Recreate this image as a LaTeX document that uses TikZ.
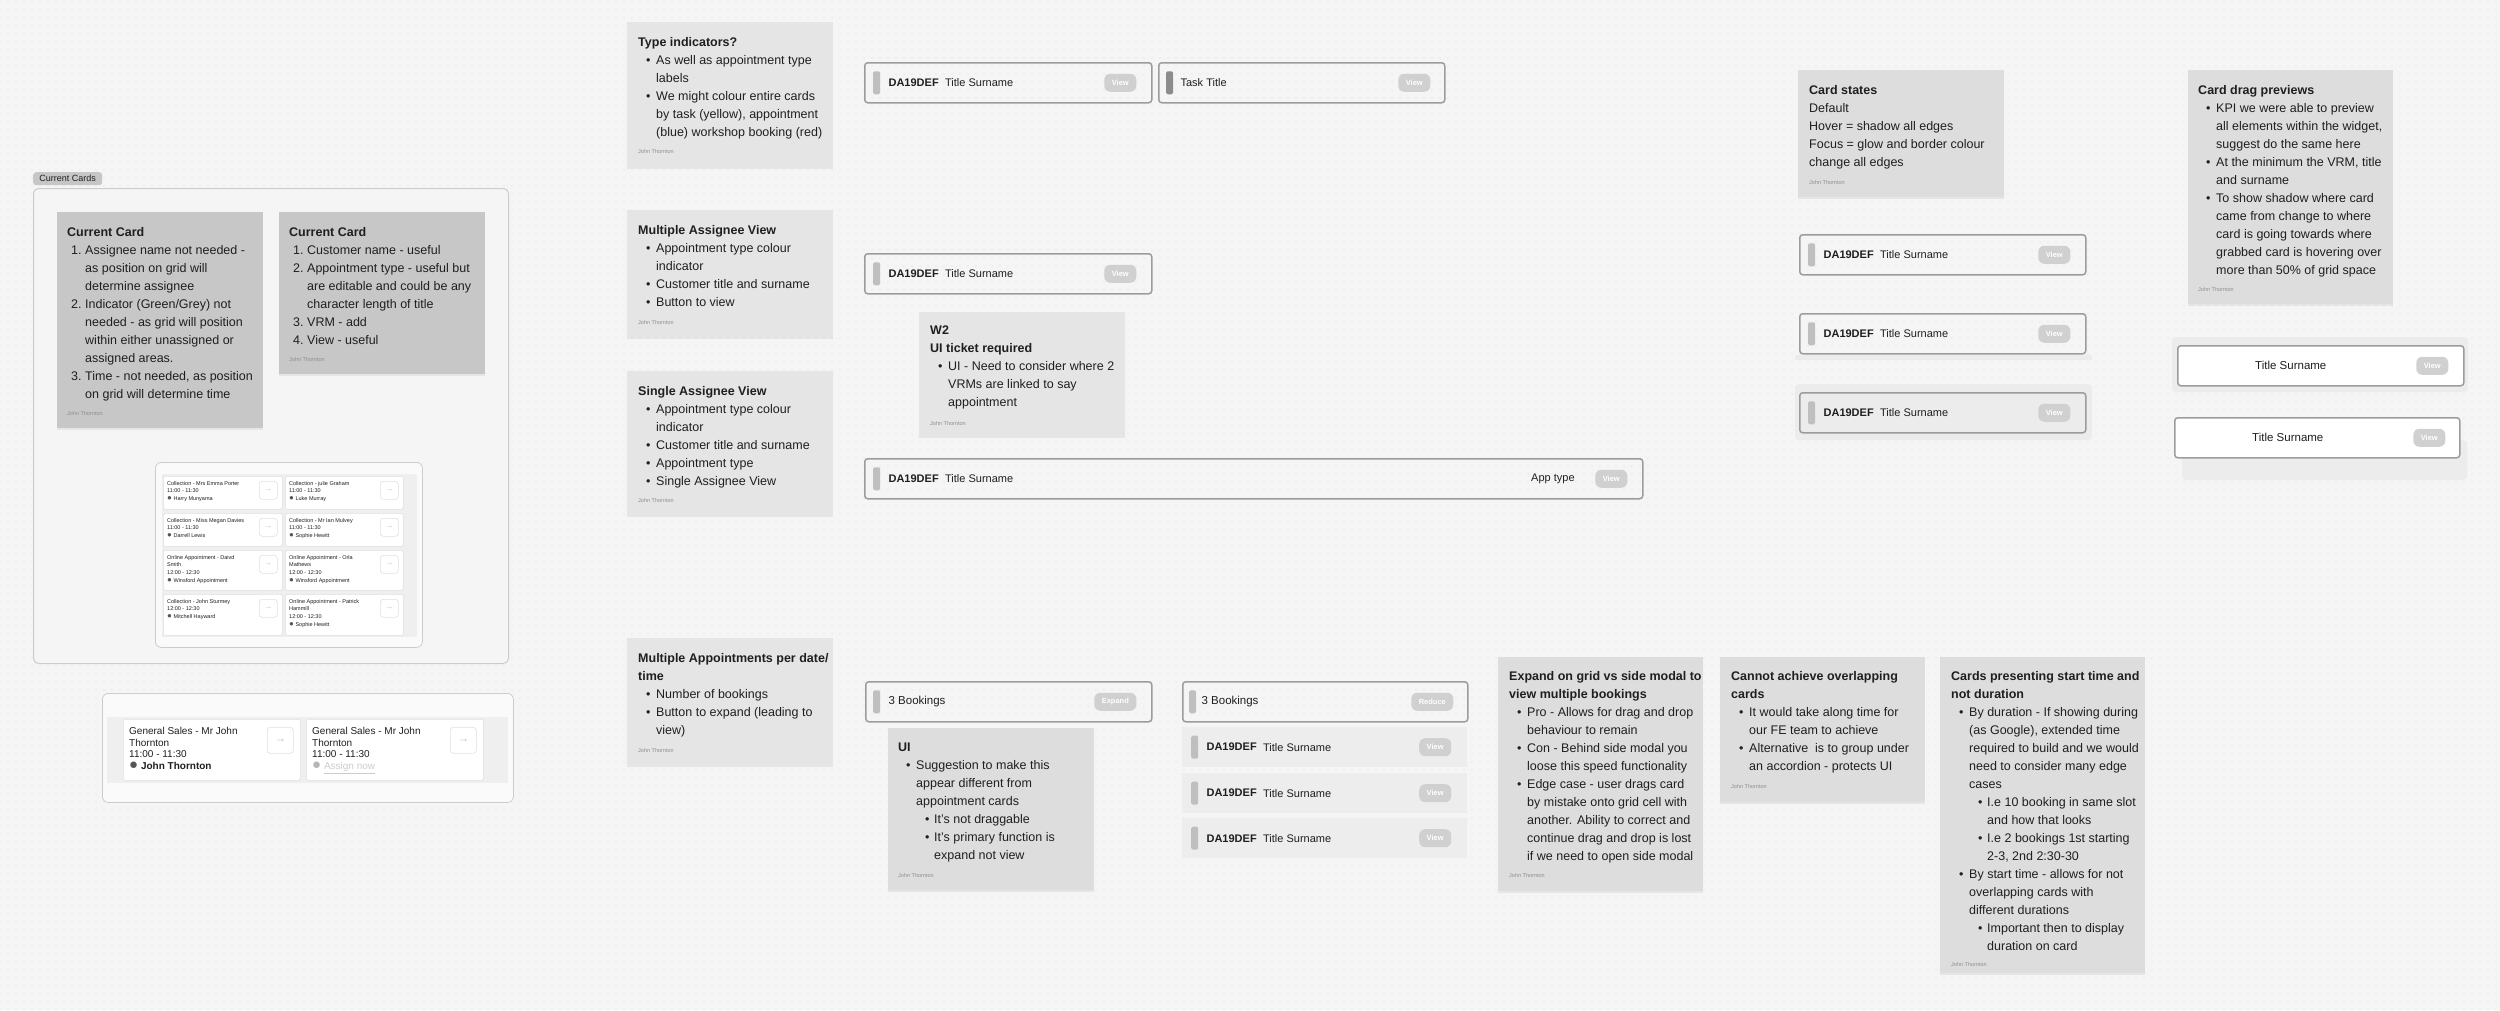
\documentclass[tikz,border=0pt]{standalone}
\usepackage{fontspec}
\setmainfont{Liberation Sans}
\usetikzlibrary{positioning,patterns,shadows}

\definecolor{bgcol}{HTML}{F5F5F5}
\definecolor{dotcol}{HTML}{DADADA}
\definecolor{notedark}{HTML}{C7C7C7}
\definecolor{notelight}{HTML}{E5E5E5}
\definecolor{notemid}{HTML}{DDDDDD}
\definecolor{cardline}{HTML}{9C9C9C}
\definecolor{barcol}{HTML}{BFBFBF}
\definecolor{darkbar}{HTML}{8C8C8C}
\definecolor{btncol}{HTML}{D0D0D0}
\definecolor{rowcol}{HTML}{EDEDED}
\definecolor{inkcol}{HTML}{1F1F1F}
\definecolor{signcol}{HTML}{8C8C8C}
\definecolor{framecol}{HTML}{CCCCCC}
\definecolor{tagcol}{HTML}{C6C6C6}
\definecolor{panelcol}{HTML}{FAFAFA}
\definecolor{bandcol}{HTML}{EFEFEF}
\definecolor{minline}{HTML}{E0E0E0}
\definecolor{arrowcol}{HTML}{C4C4C4}
\definecolor{persdot}{HTML}{555555}
\definecolor{lightdot}{HTML}{B5B5B5}
\definecolor{assigncol}{HTML}{CCCCCC}
\definecolor{glowcol}{HTML}{ECECEC}

\pgfdeclarepatternformonly{griddots}{\pgfqpoint{-1pt}{-1pt}}{\pgfqpoint{1pt}{1pt}}{\pgfqpoint{8pt}{8pt}}{%
  \pgfpathcircle{\pgfqpoint{0pt}{0pt}}{0.6pt}\pgfusepath{fill}}

% line starts inside the sticky notes
\newcommand{\bul}{\makebox[18pt][l]{\hspace{8pt}•}}
\newcommand{\cnt}{\hspace*{18pt}}
\newcommand{\sbul}{\makebox[36pt][l]{\hspace{27pt}•}}
\newcommand{\scnt}{\hspace*{36pt}}
\newcommand{\nmb}[1]{\makebox[18pt][l]{\hspace{4pt}#1}}
\newcommand{\pdot}[2]{{\fontsize{#2}{#2}\selectfont\textcolor{#1}{●}}}

\begin{document}
\begin{tikzpicture}[x=1pt, y=-1pt,
    sticky/.style={inner sep=0, anchor=north west, minimum width=206,
      drop shadow={opacity=0.12, shadow xshift=0pt, shadow yshift=-2pt}},
    note/.style={inner sep=0, anchor=north west, align=left, text=inkcol,
      font=\fontsize{12.5}{18}\selectfont},
    sign/.style={inner sep=0, anchor=west, text=signcol, font=\fontsize{5.5}{6}\selectfont},
    card/.style={draw=cardline, line width=1.5pt, rounded corners=3pt, inner sep=0,
      anchor=north west, minimum height=40},
    rowcard/.style={fill=rowcol, inner sep=0, anchor=north west, minimum height=40},
    bar/.style={fill=barcol, rounded corners=1.5pt, inner sep=0, minimum width=7, minimum height=23},
    vrm/.style={inner sep=0, text=inkcol, font=\fontsize{11}{12}\selectfont\bfseries},
    cust/.style={inner sep=0, text=inkcol, font=\fontsize{11}{12}\selectfont},
    btn/.style={fill=btncol, rounded corners=6pt, inner sep=0, minimum width=32,
      minimum height=18, text=white, font=\fontsize{7.5}{8}\selectfont\bfseries},
    mini/.style={fill=white, draw=minline, line width=0.6pt, rounded corners=1.5pt,
      inner sep=0, anchor=north west},
    minitext/.style={inner sep=0, anchor=north west, align=left, text=inkcol,
      font=\fontsize{5.5}{7.7}\selectfont},
    arrowbtn/.style={draw=minline, line width=0.6pt, rounded corners=3pt, inner sep=0,
      minimum size=18, text=arrowcol, font=\fontsize{8}{8}\selectfont}]

    % Canvas
    \useasboundingbox (0,0) rectangle (2500,1010);
    \fill[bgcol] (0,0) rectangle (2500,1010);
    \fill[pattern=griddots, pattern color=dotcol] (0,0) rectangle (2500,1010);

    % Card with bar, VRM, name and View button
    \def\apptcard#1#2#3#4#5{%
      \node[#2, minimum width=#5] (#1) at (#3,#4) {};
      \node[bar, right=9pt of #1.west] (#1bar) {};
      \node[vrm, right=8pt of #1bar] (#1vrm) {DA19DEF};
      \node[cust, right=6pt of #1vrm] (#1cust) {Title Surname};
      \node[btn, left=16pt of #1.east] (#1btn) {View};
    }

    % Mini card of the current widget
    \def\minicard#1#2#3#4#5#6{%
      \node[mini, minimum width=#4, minimum height=#5] (#1) at (#2,#3) {};
      \node[arrowbtn, anchor=north east] (#1arr) at ([shift={(-5,5)}]#1.north east) {→};
      \node[minitext] (#1txt) at ([shift={(4,5)}]#1.north west) {#6};
    }

    % ---------------- Current cards frame ----------------
    \node[fill=tagcol, rounded corners=3pt, inner sep=0, minimum width=69, minimum height=13,
      anchor=north west, text=inkcol, font=\fontsize{9}{9}\selectfont] (tag) at (33,172) {Current Cards};
    \node[draw=framecol, fill=bgcol, line width=1pt, rounded corners=5pt, inner sep=0,
      anchor=north west, minimum width=475, minimum height=475] (frame) at (33,188) {};

    \node[sticky, fill=notedark, minimum height=216] (cc1) at (57,212) {};
    \node[note] (cc1t) at ([shift={(10,15)}]cc1.north west) {\textbf{Current Card}\\
      \nmb{1.}Assignee name not needed -\\ \cnt as position on grid will\\ \cnt determine assignee\\
      \nmb{2.}Indicator (Green/Grey) not\\ \cnt needed - as grid will position\\
      \cnt within either unassigned or\\ \cnt assigned areas.\\
      \nmb{3.}Time - not needed, as position\\ \cnt on grid will determine time};
    \node[sign] (cc1s) at ([shift={(10,202)}]cc1.north west) {John Thornton};

    \node[sticky, fill=notedark, minimum height=162] (cc2) at (279,212) {};
    \node[note] (cc2t) at ([shift={(10,15)}]cc2.north west) {\textbf{Current Card}\\
      \nmb{1.}Customer name - useful\\ \nmb{2.}Appointment type - useful but\\
      \cnt are editable and could be any\\ \cnt character length of title\\
      \nmb{3.}VRM - add\\ \nmb{4.}View - useful};
    \node[sign] (cc2s) at ([shift={(10,148)}]cc2.north west) {John Thornton};

    % Current widget
    \node[fill=panelcol, draw=framecol, line width=0.8pt, rounded corners=6pt, inner sep=0,
      anchor=north west, minimum width=267, minimum height=185] (grid) at (155,462) {};
    \node[fill=bandcol, inner sep=0, anchor=north west, minimum width=255, minimum height=163] (gridband) at (162,474) {};
    \minicard{m1}{163}{476}{119}{33}{Collection - Mrs Emma Porter\\ 11:00 - 11:30\\ \pdot{persdot}{8} Harry Munyama}
    \minicard{m2}{285}{476}{118}{33}{Collection - julie Graham\\ 11:00 - 11:30\\ \pdot{persdot}{8} Luke Murray}
    \minicard{m3}{163}{513}{119}{33}{Collection - Miss Megan Davies\\ 11:00 - 11:30\\ \pdot{persdot}{8} Darrell Lewis}
    \minicard{m4}{285}{513}{118}{33}{Collection - Mr Ian Mulvey\\ 11:00 - 11:30\\ \pdot{persdot}{8} Sophie Hewitt}
    \minicard{m5}{163}{550}{119}{40}{Online Appointment - Daivd\\ Smith\\ 12:00 - 12:30\\ \pdot{persdot}{8} Winsford Appointment}
    \minicard{m6}{285}{550}{118}{40}{Online Appointment - Orla\\ Mathews\\ 12:00 - 12:30\\ \pdot{persdot}{8} Winsford Appointment}
    \minicard{m7}{163}{594}{119}{41}{Collection - John Sturmey\\ 12:00 - 12:30\\ \pdot{persdot}{8} Mitchell Hayward}
    \minicard{m8}{285}{594}{118}{41}{Online Appointment - Patrick\\ Hammill\\ 12:00 - 12:30\\ \pdot{persdot}{8} Sophie Hewitt}

    % General sales widget
    \node[fill=panelcol, draw=framecol, line width=0.8pt, rounded corners=6pt, inner sep=0,
      anchor=north west, minimum width=411, minimum height=109] (gs) at (102,693) {};
    \node[fill=bandcol, inner sep=0, anchor=north west, minimum width=401, minimum height=66] (gsband) at (107,717) {};
    \node[mini, minimum width=177, minimum height=61] (gs1) at (123,719) {};
    \node[mini, minimum width=177, minimum height=61] (gs2) at (306,719) {};
    \node[arrowbtn, minimum size=26, font=\fontsize{12}{12}\selectfont, anchor=north east] (gs1arr) at ([shift={(-7,8)}]gs1.north east) {→};
    \node[arrowbtn, minimum size=26, font=\fontsize{12}{12}\selectfont, anchor=north east] (gs2arr) at ([shift={(-7,8)}]gs2.north east) {→};
    \node[minitext, font=\fontsize{10}{11.6}\selectfont] (gs1txt) at ([shift={(6,8)}]gs1.north west)
      {General Sales - Mr John\\ Thornton\\ 11:00 - 11:30\\ \pdot{persdot}{15} \textbf{John Thornton}};
    \node[minitext, font=\fontsize{10}{11.6}\selectfont] (gs2txt) at ([shift={(6,8)}]gs2.north west)
      {General Sales - Mr John\\ Thornton\\ 11:00 - 11:30\\ \pdot{lightdot}{15} \textcolor{assigncol}{\underline{Assign now}}};

    % ---------------- Second column ----------------
    \node[sticky, fill=notelight, minimum height=145] (ti) at (627,22) {};
    \node[note] (tit) at ([shift={(11,15.5)}]ti.north west) {\textbf{Type indicators?}\\
      \bul As well as appointment type\\ \cnt labels\\
      \bul We might colour entire cards\\ \cnt by task (yellow), appointment\\ \cnt (blue) workshop booking (red)};
    \node[sign] (tis) at ([shift={(11,130)}]ti.north west) {John Thornton};

    \node[sticky, fill=notelight, minimum height=127] (ma) at (627,210) {};
    \node[note] (mat) at ([shift={(11,15.5)}]ma.north west) {\textbf{Multiple Assignee View}\\
      \bul Appointment type colour\\ \cnt indicator\\ \bul Customer title and surname\\ \bul Button to view};
    \node[sign] (mas) at ([shift={(11,113)}]ma.north west) {John Thornton};

    \node[sticky, fill=notelight, minimum height=144] (sa) at (627,371) {};
    \node[note] (sat) at ([shift={(11,15.5)}]sa.north west) {\textbf{Single Assignee View}\\
      \bul Appointment type colour\\ \cnt indicator\\ \bul Customer title and surname\\
      \bul Appointment type\\ \bul Single Assignee View};
    \node[sign] (sas) at ([shift={(11,130)}]sa.north west) {John Thornton};

    \node[sticky, fill=notelight, minimum height=127] (mp) at (627,638) {};
    \node[note] (mpt) at ([shift={(11,15.5)}]mp.north west) {\textbf{Multiple Appointments per date/}\\
      \textbf{time}\\ \bul Number of bookings\\ \bul Button to expand (leading to\\ \cnt view)};
    \node[sign] (mps) at ([shift={(11,113)}]mp.north west) {John Thornton};

    % ---------------- Cards ----------------
    \apptcard{top}{card}{864}{62}{287}
    \node[card, minimum width=286] (task) at (1158,62) {};
    \node[bar, fill=darkbar, right=8pt of task.west] (taskbar) {};
    \node[cust, right=7pt of taskbar] (tasktxt) {Task Title};
    \node[btn, left=15pt of task.east] (taskbtn) {View};

    \apptcard{multi}{card}{864}{253}{287}

    \node[sticky, fill=notelight, minimum height=124] (w2) at (919,312) {};
    \node[note] (w2t) at ([shift={(11,13.5)}]w2.north west) {\textbf{W2}\\ \textbf{UI ticket required}\\
      \bul UI - Need to consider where 2\\ \cnt VRMs are linked to say\\ \cnt appointment};
    \node[sign] (w2s) at ([shift={(11,112)}]w2.north west) {John Thornton};

    \apptcard{single}{card}{864}{458}{778}
    \node[cust, anchor=west] (singletype) at ([shift={(667,0)}]single.west) {App type};

    % Bookings group
    \node[card, minimum width=286] (exp) at (865,681) {};
    \node[bar, right=8pt of exp.west] (expbar) {};
    \node[cust, font=\fontsize{11.5}{12}\selectfont, right=8pt of expbar] (exptxt) {3 Bookings};
    \node[btn, minimum width=42, left=16pt of exp.east] (expbtn) {Expand};

    \node[sticky, fill=notemid, minimum height=162] (ui) at (888,728) {};
    \node[note] (uit) at ([shift={(10,14.5)}]ui.north west) {\textbf{UI}\\
      \bul Suggestion to make this\\ \cnt appear different from\\ \cnt appointment cards\\
      \sbul It’s not draggable\\ \sbul It’s primary function is\\ \scnt expand not view};
    \node[sign] (uis) at ([shift={(10,148)}]ui.north west) {John Thornton};

    \node[card, minimum width=285] (red) at (1182,681) {};
    \node[bar, right=7pt of red.west] (redbar) {};
    \node[cust, font=\fontsize{11.5}{12}\selectfont, right=5pt of redbar] (redtxt) {3 Bookings};
    \node[btn, minimum width=42, left=15pt of red.east] (redbtn) {Reduce};
    \apptcard{r1}{rowcard}{1182}{727}{285}
    \apptcard{r2}{rowcard}{1182}{773}{285}
    \apptcard{r3}{rowcard}{1182}{818}{285}

    % ---------------- Bottom notes ----------------
    \node[sticky, fill=notemid, minimum width=205, minimum height=234] (eg) at (1498,657) {};
    \node[note] (egt) at ([shift={(11,14.5)}]eg.north west) {\textbf{Expand on grid vs side modal to}\\
      \textbf{view multiple bookings}\\
      \bul Pro - Allows for drag and drop\\ \cnt behaviour to remain\\
      \bul Con - Behind side modal you\\ \cnt loose this speed functionality\\
      \bul Edge case - user drags card\\ \cnt by mistake onto grid cell with\\
      \cnt another. Ability to correct and\\ \cnt continue drag and drop is lost\\
      \cnt if we need to open side modal};
    \node[sign] (egs) at ([shift={(11,219)}]eg.north west) {John Thornton};

    \node[sticky, fill=notemid, minimum width=205, minimum height=145] (ca) at (1720,657) {};
    \node[note] (cat) at ([shift={(11,14.5)}]ca.north west) {\textbf{Cannot achieve overlapping}\\
      \textbf{cards}\\ \bul It would take along time for\\ \cnt our FE team to achieve\\
      \bul Alternative\ \ is to group under\\ \cnt an accordion - protects UI};
    \node[sign] (cas) at ([shift={(11,130)}]ca.north west) {John Thornton};

    \node[sticky, fill=notemid, minimum width=205, minimum height=316] (cp) at (1940,657) {};
    \node[note] (cpt) at ([shift={(11,14.5)}]cp.north west) {\textbf{Cards presenting start time and}\\
      \textbf{not duration}\\
      \bul By duration - If showing during\\ \cnt (as Google), extended time\\
      \cnt required to build and we would\\ \cnt need to consider many edge\\ \cnt cases\\
      \sbul I.e 10 booking in same slot\\ \scnt and how that looks\\
      \sbul I.e 2 bookings 1st starting\\ \scnt 2-3, 2nd 2:30-30\\
      \bul By start time - allows for not\\ \cnt overlapping cards with\\ \cnt different durations\\
      \sbul Important then to display\\ \scnt duration on card};
    \node[sign] (cps) at ([shift={(11,308)}]cp.north west) {John Thornton};

    % ---------------- Card states ----------------
    \node[sticky, fill=notemid, minimum height=127] (cs) at (1798,70) {};
    \node[note] (cst) at ([shift={(11,15)}]cs.north west) {\textbf{Card states}\\ Default\\
      Hover = shadow all edges\\ Focus = glow and border colour\\ change all edges};
    \node[sign] (css) at ([shift={(11,113)}]cs.north west) {John Thornton};

    \apptcard{st1}{card}{1799}{234}{286}
    \fill[glowcol] (1795,355) rectangle (2092,360);
    \apptcard{st2}{card}{1799}{313}{286}
    \fill[glowcol, rounded corners=4pt] (1795,384) rectangle (2092,440);
    \apptcard{st3}{card}{1799}{392}{286}

    % ---------------- Drag previews ----------------
    \node[sticky, fill=notemid, minimum width=205, minimum height=234] (cd) at (2188,70) {};
    \node[note] (cdt) at ([shift={(10,15)}]cd.north west) {\textbf{Card drag previews}\\
      \bul KPI we were able to preview\\ \cnt all elements within the widget,\\ \cnt suggest do the same here\\
      \bul At the minimum the VRM, title\\ \cnt and surname\\
      \bul To show shadow where card\\ \cnt came from change to where\\ \cnt card is going towards where\\
      \cnt grabbed card is hovering over\\ \cnt more than 50\% of grid space};
    \node[sign] (cds) at ([shift={(10,220)}]cd.north west) {John Thornton};

    \fill[glowcol, rounded corners=4pt] (2172,337) rectangle (2468,392);
    \node[card, fill=white, minimum width=286] (pv1) at (2177,345) {};
    \node[cust, font=\fontsize{11.5}{12}\selectfont, anchor=west] (pv1txt) at ([shift={(78,0)}]pv1.west) {Title Surname};
    \node[btn, left=16pt of pv1.east] (pv1btn) {View};
    \fill[glowcol, rounded corners=4pt] (2182,440) rectangle (2467,480);
    \node[card, fill=white, minimum width=285] (pv2) at (2174,417) {};
    \node[cust, font=\fontsize{11.5}{12}\selectfont, anchor=west] (pv2txt) at ([shift={(78,0)}]pv2.west) {Title Surname};
    \node[btn, left=15pt of pv2.east] (pv2btn) {View};
\end{tikzpicture}
\end{document}
